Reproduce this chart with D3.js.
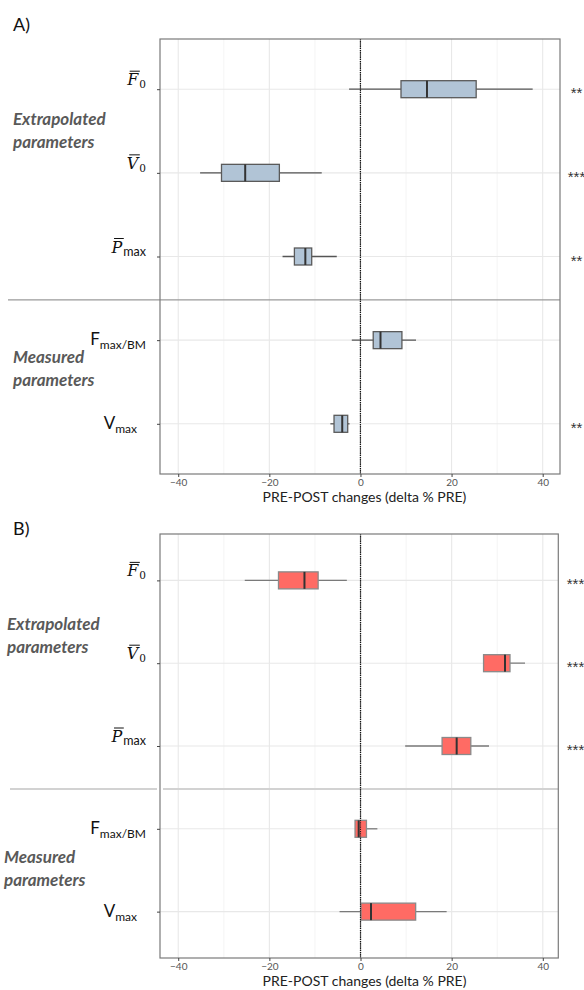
<!DOCTYPE html>
<html><head><meta charset="utf-8">
<script src="https://cdn.jsdelivr.net/npm/d3@7"></script>
<style>
html,body{margin:0;padding:0;background:#fff;}
svg{display:block;}
</style>
</head><body>
<svg id="chart" width="584" height="990"></svg>
<script>
// ---------- data ----------
const categories = ["F0", "V0", "Pmax", "FmaxBM", "Vmax"];
const labelMain = ["F", "V", "P", "F", "V"];
const labelSub = ["0", "0", "max", "max/BM", "max"];
const labelBar = [true, true, true, false, false];

const xTicks = [-40, -20, 0, 20, 40];
const xMinor = [-30, -10, 10, 30];
const xTitle = "PRE-POST changes (delta % PRE)";
const groupTop = ["Extrapolated", "parameters"];
const groupBottom = ["Measured", "parameters"];

// Panel A (blue)
const aLow = [-2.5, -35.2, -17.1, -1.9, -6.6];
const aQ1 = [8.9, -30.5, -14.5, 2.8, -5.8];
const aMed = [14.6, -25.3, -12.1, 4.4, -4.0];
const aQ3 = [25.4, -17.8, -10.7, 9.1, -2.8];
const aHigh = [37.8, -8.5, -5.2, 12.2, -2.4];
const aSig = ["**", "***", "**", "", "**"];

// Panel B (red)
const bLow = [-25.4, 27.0, 9.8, -1.2, -4.6];
const bQ1 = [-18.0, 27.0, 17.9, -1.2, 0.1];
const bMed = [-12.3, 31.7, 21.1, -0.4, 2.3];
const bQ3 = [-9.3, 32.8, 24.2, 1.3, 12.1];
const bHigh = [-3.0, 36.1, 28.2, 3.7, 18.9];
const bSig = ["***", "***", "***", "", ""];

// ---------- layout ----------
const svg = d3.select("#chart");
const SANS = "Lato, 'Open Sans', sans-serif";
const SERIF = "'DejaVu Serif', 'Liberation Serif', serif";

const panels = [
  {tag: "A)", tagY: 31, top: 39, bottom: 474, left: 160, right: 560, xDom: [-44, 43.8], pad: 0.6,
   low: aLow, q1: aQ1, med: aMed, q3: aQ3, high: aHigh, sig: aSig,
   fill: "#b1c4d6", stroke: "#5a5a5a", whisk: "#555",
   sepColor: "#9a9a9a", sepW: 1.3, sepX0: 8, sepGap: false,
   gTop: [13, 125, 148], gBot: [13, 363, 386], starX: 576.5},
  {tag: "B)", tagY: 535, top: 534, bottom: 958, left: 160, right: 558.3, xDom: [-44, 43.4], pad: 0.56,
   low: bLow, q1: bQ1, med: bMed, q3: bQ3, high: bHigh, sig: bSig,
   fill: "#ff6b64", stroke: "#8a8a8a", whisk: "#7a7a7a",
   sepColor: "#d2d2d2", sepW: 2, sepX0: 10, sepGap: true,
   gTop: [7, 630, 653], gBot: [4, 863, 886], starX: 575.5}
];

panels.forEach(p => {
  const g = svg.append("g");
  const x = d3.scaleLinear().domain(p.xDom).range([p.left, p.right]);
  const y = d3.scalePoint().domain(categories).range([p.top, p.bottom]).padding(p.pad);

  // panel tag
  g.append("text").attr("x", 13).attr("y", p.tagY)
    .attr("font-family", SANS).attr("font-size", 18).attr("fill", "#111").text(p.tag);

  // minor grid
  g.selectAll(".minor").data(xMinor).join("line")
    .attr("x1", d => x(d)).attr("x2", d => x(d))
    .attr("y1", p.top).attr("y2", p.bottom)
    .attr("stroke", "#f1f1f1").attr("stroke-width", 0.8);
  // major grid
  g.selectAll(".major").data(xTicks).join("line")
    .attr("x1", d => x(d)).attr("x2", d => x(d))
    .attr("y1", p.top).attr("y2", p.bottom)
    .attr("stroke", "#e8e8e8").attr("stroke-width", 1.1);
  // horizontal grid
  g.selectAll(".hgrid").data(categories).join("line")
    .attr("x1", p.left).attr("x2", p.right)
    .attr("y1", d => y(d)).attr("y2", d => y(d))
    .attr("stroke", "#e8e8e8").attr("stroke-width", 1.1);

  // separator between extrapolated and measured
  const sepY = (y("Pmax") + y("FmaxBM")) / 2 + 1.5;
  if (p.sepGap) {
    g.append("line").attr("x1", p.sepX0).attr("x2", p.left - 3).attr("y1", sepY).attr("y2", sepY)
      .attr("stroke", p.sepColor).attr("stroke-width", p.sepW);
    g.append("line").attr("x1", p.left + 3).attr("x2", p.right).attr("y1", sepY).attr("y2", sepY)
      .attr("stroke", p.sepColor).attr("stroke-width", p.sepW);
  } else {
    g.append("line").attr("x1", p.sepX0).attr("x2", p.right).attr("y1", sepY).attr("y2", sepY)
      .attr("stroke", p.sepColor).attr("stroke-width", p.sepW);
  }

  // zero line (dotted)
  g.append("line").attr("x1", x(0)).attr("x2", x(0)).attr("y1", p.top).attr("y2", p.bottom)
    .attr("stroke", "#111").attr("stroke-width", 1.2).attr("stroke-dasharray", "1.2,1");

  // boxplots
  const idx = d3.range(categories.length);
  const bh = 17;
  const bx = g.append("g");
  bx.selectAll(".wh").data(idx).join("line")
    .attr("x1", i => x(p.low[i])).attr("x2", i => x(p.high[i]))
    .attr("y1", i => y(categories[i])).attr("y2", i => y(categories[i]))
    .attr("stroke", p.whisk).attr("stroke-width", 1.3);
  bx.selectAll(".bx").data(idx).join("rect")
    .attr("x", i => x(p.q1[i])).attr("width", i => x(p.q3[i]) - x(p.q1[i]))
    .attr("y", i => y(categories[i]) - bh / 2).attr("height", bh)
    .attr("fill", p.fill).attr("stroke", p.stroke).attr("stroke-width", 1.3);
  bx.selectAll(".md").data(idx).join("line")
    .attr("x1", i => x(p.med[i])).attr("x2", i => x(p.med[i]))
    .attr("y1", i => y(categories[i]) - bh / 2).attr("y2", i => y(categories[i]) + bh / 2)
    .attr("stroke", "#333").attr("stroke-width", 2);

  // zero dotted line on top
  g.append("line").attr("x1", x(0)).attr("x2", x(0)).attr("y1", p.top).attr("y2", p.bottom)
    .attr("stroke", "#111").attr("stroke-width", 1.1).attr("stroke-dasharray", "1.2,1").attr("opacity", 0.9);

  // frame
  g.append("rect").attr("x", p.left).attr("y", p.top)
    .attr("width", p.right - p.left).attr("height", p.bottom - p.top)
    .attr("fill", "none").attr("stroke", "#7a7a7a").attr("stroke-width", 1.2);

  // x axis
  const xa = g.append("g").attr("transform", `translate(0,${p.bottom})`)
    .call(d3.axisBottom(x).tickValues(xTicks).tickSize(3).tickPadding(2).tickFormat(d3.format("d")));
  xa.select(".domain").remove();
  xa.selectAll(".tick line").attr("stroke", "#444");
  xa.selectAll(".tick text").attr("font-family", SANS).attr("font-size", 10).attr("fill", "#555");

  // y axis ticks
  const ya = g.append("g").attr("transform", `translate(${p.left},0)`)
    .call(d3.axisLeft(y).tickSize(3).tickFormat(""));
  ya.select(".domain").remove();
  ya.selectAll(".tick line").attr("stroke", "#444");

  // y labels
  idx.forEach(i => {
    const cy = y(categories[i]);
    if (labelBar[i]) {
      const t = g.append("text").attr("x", 146).attr("y", cy - 4).attr("text-anchor", "end").attr("fill", "#111");
      t.append("tspan").attr("font-family", SERIF).attr("font-style", "italic").attr("font-size", 16).text(labelMain[i]);
      const subIsNum = labelSub[i] === "0";
      t.append("tspan").attr("dy", 3).attr("dx", 1)
        .attr("font-family", subIsNum ? SERIF : SANS).attr("font-size", subIsNum ? 10.5 : 12.5).text(labelSub[i]);
      const node = t.node();
      const s = node.getStartPositionOfChar(0), e = node.getEndPositionOfChar(0);
      g.append("line").attr("x1", s.x + 2.5).attr("x2", e.x + 1.5)
        .attr("y1", cy - 18).attr("y2", cy - 18).attr("stroke", "#111").attr("stroke-width", 1);
    } else {
      const xr = labelMain[i] === "V" ? 137 : 146;
      const t = g.append("text").attr("x", xr).attr("y", cy + 5).attr("text-anchor", "end").attr("fill", "#111");
      t.append("tspan").attr("font-family", SANS).attr("font-size", 17).text(labelMain[i]);
      t.append("tspan").attr("dy", 4).attr("font-family", SANS).attr("font-size", 12).text(labelSub[i]);
    }
  });

  // group labels
  [[groupTop, p.gTop], [groupBottom, p.gBot]].forEach(([lines, pos]) => {
    lines.forEach((ln, k) => {
      g.append("text").attr("x", pos[0]).attr("y", pos[1 + k])
        .attr("font-family", SANS).attr("font-weight", "bold").attr("font-style", "italic")
        .attr("font-size", 17).attr("fill", "#595959").text(ln);
    });
  });

  // significance stars
  g.selectAll(".sig").data(idx.filter(i => p.sig[i])).join("text")
    .attr("x", p.starX).attr("y", i => y(categories[i]) + 9)
    .attr("text-anchor", "middle").attr("font-family", "'Liberation Sans', Arial, sans-serif")
    .attr("font-size", 15).attr("fill", "#333")
    .text(i => p.sig[i]);

  // x title
  g.append("text").attr("x", x(0) + 4).attr("y", p.bottom + 28).attr("text-anchor", "middle")
    .attr("font-family", SANS).attr("font-size", 14).attr("fill", "#222").text(xTitle);
});
</script>
</body></html>
